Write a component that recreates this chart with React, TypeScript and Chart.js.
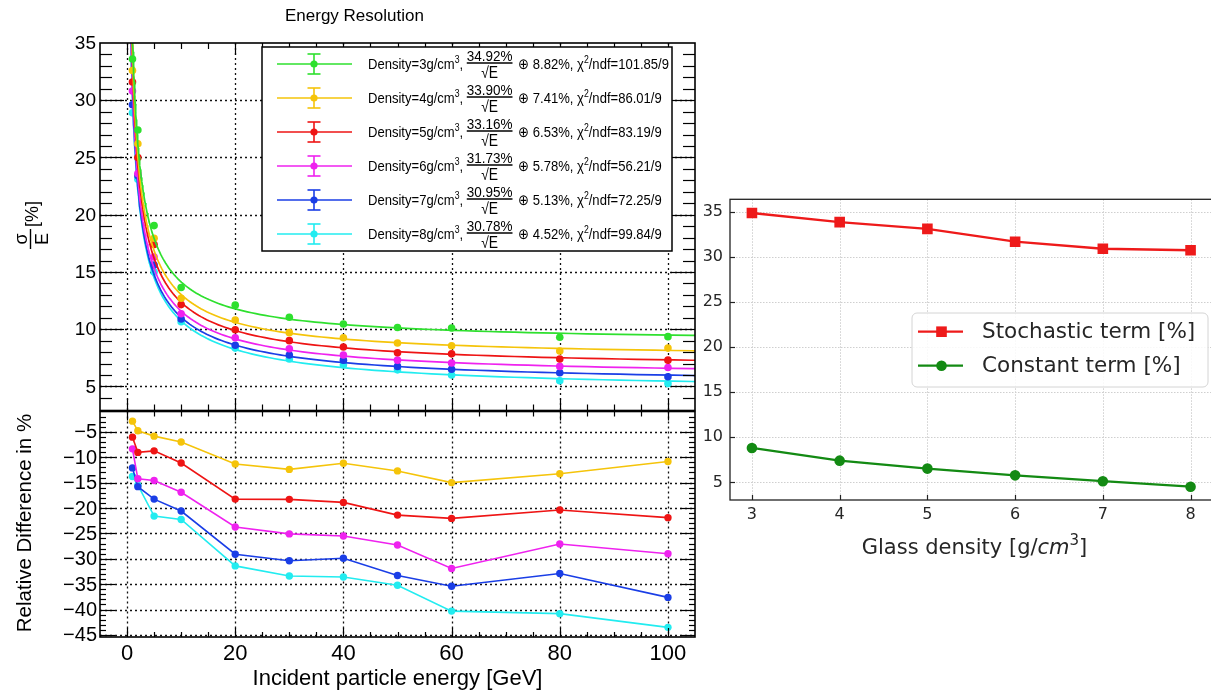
import React, { useEffect, useRef } from 'react';
import { Chart, registerables } from 'chart.js';

Chart.register(...registerables);

const ROOT_FONT = '"Liberation Sans", Arial, Helvetica, sans-serif';
const MPL_FONT = '"DejaVu Sans", "Liberation Sans", sans-serif';

// Beam energies (GeV)
const energies = [1, 2, 5, 10, 20, 30, 40, 50, 60, 80, 100];
// Glass densities (g/cm^3)
const densities = [3, 4, 5, 6, 7, 8];

// Measured energy resolution sigma/E (%) for each density
const resolutionD3 = [33.6, 27.4, 19.05, 13.65, 12.1, 11.05, 10.45, 10.15, 10.1, 9.3, 9.35];
const resolutionD4 = [32.6, 26.2, 17.95, 12.7, 10.8, 9.7, 9.25, 8.8, 8.55, 8.1, 8.35];
const resolutionD5 = [31.6, 25.0, 17.4, 12.15, 9.95, 9.0, 8.45, 7.95, 7.85, 7.4, 7.3];
const resolutionD6 = [30.8, 23.6, 16.3, 11.35, 9.25, 8.3, 7.75, 7.3, 7.05, 6.75, 6.65];
const resolutionD7 = [29.6, 23.4, 15.6, 10.9, 8.6, 7.75, 7.3, 6.75, 6.5, 6.2, 5.85];
const resolutionD8 = [28.9, 23.1, 15.0, 10.65, 8.35, 7.4, 6.9, 6.45, 6.0, 5.5, 5.25];

// Fit parameters: stochastic term a (%), constant term b (%), chi2 of the fit
const stochasticTerm = [34.92, 33.9, 33.16, 31.73, 30.95, 30.78];
const constantTerm = [8.82, 7.41, 6.53, 5.78, 5.13, 4.52];
const chi2 = ['101.85', '86.01', '83.19', '56.21', '72.25', '99.84'];

// Relative difference (%) with respect to density 3 g/cm^3
const relDiffD4 = [-2.9, -4.8, -5.85, -7.0, -11.35, -12.4, -11.2, -12.7, -15.0, -13.25, -10.85];
const relDiffD5 = [-6.05, -9.05, -8.75, -11.15, -18.25, -18.3, -18.9, -21.4, -22.05, -20.4, -21.9];
const relDiffD6 = [-8.35, -14.25, -14.6, -16.9, -23.75, -25.1, -25.5, -27.3, -31.9, -27.1, -29.0];
const relDiffD7 = [-12.1, -15.8, -18.25, -20.6, -29.1, -30.4, -29.9, -33.3, -35.4, -32.9, -37.6];
const relDiffD8 = [-13.8, -15.5, -21.6, -22.25, -31.4, -33.4, -33.6, -35.2, -40.3, -40.8, -43.5];

// Axis ticks
const energyTicks = [0, 20, 40, 60, 80, 100];
const resolutionTicks = [5, 10, 15, 20, 25, 30, 35];
const relDiffTicks = [-5, -10, -15, -20, -25, -30, -35, -40, -45];
const termTicks = [5, 10, 15, 20, 25, 30, 35];
const densityTicks = [3, 4, 5, 6, 7, 8];

const densityColors = ['#2ee02e', '#f5c40a', '#ee1414', '#ef22ef', '#1a3ee6', '#22ecf0'];
const STOCH_COLOR = '#ee1a1a';
const CONST_COLOR = '#138a13';

const resolutionSeries = [resolutionD3, resolutionD4, resolutionD5, resolutionD6, resolutionD7, resolutionD8];
const relDiffSeries = [relDiffD4, relDiffD5, relDiffD6, relDiffD7, relDiffD8];

// Fit function sigma/E = a/sqrt(E) (+) b, sampled finely for a smooth curve
const fitEnergies: number[] = [];
for (let e = 0.6; e < 106; e *= 1.035) fitEnergies.push(e);
fitEnergies.push(106);
const resolutionFit = (a: number, b: number, e: number) => Math.sqrt((a * a) / e + b * b);

type AxisSpec = { from: number; to: number; minor: number; major: number; majorLen: number; minorLen: number };

const isMultiple = (v: number, m: number) => Math.abs(v / m - Math.round(v / m)) < 1e-6;

function seg(ctx: CanvasRenderingContext2D, x1: number, y1: number, x2: number, y2: number) {
  ctx.beginPath();
  ctx.moveTo(x1, y1);
  ctx.lineTo(x2, y2);
  ctx.stroke();
}

function rootGrid(chart: any, xs: number[], ys: number[]) {
  const { ctx, chartArea: a, scales } = chart;
  ctx.save();
  ctx.beginPath();
  ctx.rect(a.left, a.top, a.right - a.left, a.bottom - a.top);
  ctx.clip();
  ctx.strokeStyle = '#111';
  ctx.lineWidth = 1.3;
  ctx.setLineDash([2, 3]);
  xs.forEach((v) => {
    const p = Math.round(scales.x.getPixelForValue(v)) + 0.5;
    seg(ctx, p, a.top, p, a.bottom);
  });
  ys.forEach((v) => {
    const p = Math.round(scales.y.getPixelForValue(v)) + 0.5;
    seg(ctx, a.left, p, a.right, p);
  });
  ctx.restore();
}

function rootFrame(chart: any, xs: AxisSpec, ys: AxisSpec) {
  const { ctx, chartArea: a, scales } = chart;
  ctx.save();
  ctx.strokeStyle = '#000';
  ctx.lineWidth = 1.2;
  ctx.setLineDash([]);
  const nx = Math.round((xs.to - xs.from) / xs.minor);
  for (let k = 0; k <= nx; k++) {
    const v = xs.from + k * xs.minor;
    const p = Math.round(scales.x.getPixelForValue(v)) + 0.5;
    if (p <= a.left + 1 || p >= a.right - 1) continue;
    const len = isMultiple(v, xs.major) ? xs.majorLen : xs.minorLen;
    seg(ctx, p, a.bottom, p, a.bottom - len);
    seg(ctx, p, a.top, p, a.top + len);
  }
  const ny = Math.round((ys.to - ys.from) / ys.minor);
  for (let k = 0; k <= ny; k++) {
    const v = ys.from + k * ys.minor;
    const p = Math.round(scales.y.getPixelForValue(v)) + 0.5;
    if (p <= a.top + 1 || p >= a.bottom - 1) continue;
    const len = isMultiple(v, ys.major) ? ys.majorLen : ys.minorLen;
    seg(ctx, a.left, p, a.left + len, p);
    seg(ctx, a.right, p, a.right - len, p);
  }
  ctx.lineWidth = 1.6;
  ctx.strokeRect(a.left, a.top, a.right - a.left, a.bottom - a.top);
  ctx.restore();
}

function drawFitLegend(ctx: CanvasRenderingContext2D) {
  const bx = 262;
  const by = 47;
  const bw = 410;
  const bh = 204;
  ctx.save();
  ctx.fillStyle = '#fff';
  ctx.fillRect(bx, by, bw, bh);
  ctx.strokeStyle = '#000';
  ctx.lineWidth = 1.5;
  ctx.strokeRect(bx, by, bw, bh);
  densities.forEach((d, i) => {
    const cy = 64 + 34 * i;
    const c = densityColors[i];
    ctx.strokeStyle = c;
    ctx.lineWidth = 1.6;
    seg(ctx, 277, cy, 352, cy);
    seg(ctx, 314, cy - 10, 314, cy + 10);
    seg(ctx, 307.5, cy - 10, 320.5, cy - 10);
    seg(ctx, 307.5, cy + 10, 320.5, cy + 10);
    ctx.fillStyle = c;
    ctx.beginPath();
    ctx.arc(314, cy, 3.6, 0, Math.PI * 2);
    ctx.fill();

    // entry text, set in a slightly condensed face
    ctx.save();
    ctx.translate(368, 0);
    ctx.scale(0.87, 1);
    ctx.fillStyle = '#000';
    ctx.textBaseline = 'alphabetic';
    ctx.textAlign = 'left';
    const base = cy + 5;
    let x = 0;
    const put = (s: string, size: number, dy = 0) => {
      ctx.font = `${size}px ${ROOT_FONT}`;
      ctx.fillText(s, x, base + dy);
      x += ctx.measureText(s).width;
    };
    put(`Density=${d}g/cm`, 15);
    put('3', 10, -6.5);
    put(', ', 15);
    ctx.font = `15.5px ${ROOT_FONT}`;
    const num = `${stochasticTerm[i].toFixed(2)}%`;
    const nw = ctx.measureText(num).width;
    ctx.fillText(num, x, cy - 3);
    ctx.strokeStyle = '#000';
    ctx.lineWidth = 1.5;
    seg(ctx, x, cy - 1, x + nw, cy - 1);
    ctx.font = `16px ${ROOT_FONT}`;
    ctx.textAlign = 'center';
    ctx.fillText('\u221AE', x + nw / 2, cy + 14);
    ctx.textAlign = 'left';
    x += nw + 2;
    put(` \u2295 ${constantTerm[i].toFixed(2)}%, \u03C7`, 15);
    put('2', 10, -6.5);
    put(`/ndf=${chi2[i]}/9`, 15);
    ctx.restore();
  });
  ctx.restore();
}

const minusLabel = (v: number) => (v < 0 ? '\u2212' + Math.abs(v) : String(v));

const topPlugin = {
  id: 'resolutionFrame',
  beforeDatasetsDraw(chart: any) {
    rootGrid(chart, energyTicks, resolutionTicks.filter((v) => v < 35));
  },
  afterDatasetsDraw(chart: any) {
    const { ctx, chartArea: a, scales } = chart;
    rootFrame(
      chart,
      { from: -5, to: 105, minor: 5, major: 20, majorLen: 12, minorLen: 6 },
      { from: 3, to: 35, minor: 1, major: 5, majorLen: 24, minorLen: 12 }
    );
    ctx.save();
    ctx.fillStyle = '#000';
    ctx.font = `19px ${ROOT_FONT}`;
    ctx.textAlign = 'right';
    ctx.textBaseline = 'middle';
    resolutionTicks.forEach((v) => ctx.fillText(String(v), a.left - 4, scales.y.getPixelForValue(v) + 1));

    // title
    ctx.font = `17px ${ROOT_FONT}`;
    ctx.textAlign = 'left';
    ctx.textBaseline = 'alphabetic';
    ctx.fillText('Energy Resolution', 285, 21);

    // y title: sigma over E, then [%], rotated
    ctx.save();
    ctx.rotate(-Math.PI / 2);
    ctx.font = `18px ${ROOT_FONT}`;
    ctx.textAlign = 'center';
    ctx.fillText('\u03C3', -239, 27);
    ctx.strokeStyle = '#000';
    ctx.lineWidth = 1.4;
    seg(ctx, -249, 30.5, -229, 30.5);
    ctx.fillText('E', -239, 47.5);
    ctx.fillText('[%]', -214, 38);
    ctx.restore();

    drawFitLegend(ctx);
    ctx.restore();
  },
};

const bottomPlugin = {
  id: 'relDiffFrame',
  beforeDatasetsDraw(chart: any) {
    rootGrid(chart, energyTicks, relDiffTicks);
  },
  afterDatasetsDraw(chart: any) {
    const { ctx, chartArea: a, scales } = chart;
    rootFrame(
      chart,
      { from: -5, to: 105, minor: 5, major: 20, majorLen: 9, minorLen: 5 },
      { from: -45, to: -1, minor: 1, major: 5, majorLen: 15, minorLen: 6 }
    );
    ctx.save();
    ctx.fillStyle = '#000';
    ctx.font = `20px ${ROOT_FONT}`;
    ctx.textAlign = 'right';
    ctx.textBaseline = 'middle';
    relDiffTicks.forEach((v) => ctx.fillText(minusLabel(v), a.left - 3, scales.y.getPixelForValue(v) + 1));

    ctx.font = `22px ${ROOT_FONT}`;
    ctx.textAlign = 'center';
    ctx.textBaseline = 'alphabetic';
    const tickBase = 660 - 400;
    energyTicks.forEach((v) => ctx.fillText(String(v), scales.x.getPixelForValue(v), tickBase));
    ctx.fillText('Incident particle energy [GeV]', 397.5, 685 - 400);

    ctx.save();
    ctx.rotate(-Math.PI / 2);
    ctx.font = `20.5px ${ROOT_FONT}`;
    ctx.textAlign = 'center';
    ctx.fillText('Relative Difference in %', -(523 - 400), 31);
    ctx.restore();
    ctx.restore();
  },
};

function drawTermLegend(ctx: CanvasRenderingContext2D) {
  const x = 912 - 700;
  const y = 313 - 190;
  const w = 296;
  const h = 74;
  const r = 5;
  ctx.save();
  ctx.beginPath();
  ctx.moveTo(x + r, y);
  ctx.arcTo(x + w, y, x + w, y + h, r);
  ctx.arcTo(x + w, y + h, x, y + h, r);
  ctx.arcTo(x, y + h, x, y, r);
  ctx.arcTo(x, y, x + w, y, r);
  ctx.closePath();
  ctx.fillStyle = 'rgba(255,255,255,0.85)';
  ctx.fill();
  ctx.strokeStyle = '#d4d4d4';
  ctx.lineWidth = 1;
  ctx.stroke();

  const rows = [
    { label: 'Stochastic term [%]', color: STOCH_COLOR, square: true, cy: 331.7 - 190 },
    { label: 'Constant term [%]', color: CONST_COLOR, square: false, cy: 365.7 - 190 },
  ];
  rows.forEach((row) => {
    ctx.strokeStyle = row.color;
    ctx.fillStyle = row.color;
    ctx.lineWidth = 2.2;
    seg(ctx, 918 - 700, row.cy, 963 - 700, row.cy);
    const mx = 941.5 - 700;
    if (row.square) {
      ctx.fillRect(mx - 5.3, row.cy - 5.3, 10.6, 10.6);
    } else {
      ctx.beginPath();
      ctx.arc(mx, row.cy, 5.3, 0, Math.PI * 2);
      ctx.fill();
    }
    ctx.fillStyle = '#262626';
    ctx.font = `21.5px ${MPL_FONT}`;
    ctx.textAlign = 'left';
    ctx.textBaseline = 'middle';
    ctx.fillText(row.label, 982 - 700, row.cy + 1);
  });
  ctx.restore();
}

const termPlugin = {
  id: 'termFrame',
  beforeDatasetsDraw(chart: any) {
    const { ctx, chartArea: a, scales } = chart;
    ctx.save();
    ctx.strokeStyle = '#cfcfcf';
    ctx.lineWidth = 1;
    ctx.setLineDash([1.5, 1.5]);
    densityTicks.forEach((v) => {
      const p = Math.round(scales.x.getPixelForValue(v)) + 0.5;
      seg(ctx, p, a.top, p, a.bottom);
    });
    termTicks.forEach((v) => {
      const p = Math.round(scales.y.getPixelForValue(v)) + 0.5;
      seg(ctx, a.left, p, a.right, p);
    });
    ctx.restore();
  },
  afterDatasetsDraw(chart: any) {
    const { ctx, chartArea: a, scales } = chart;
    ctx.save();
    ctx.strokeStyle = '#222';
    ctx.lineWidth = 1.2;
    densityTicks.forEach((v) => {
      const p = Math.round(scales.x.getPixelForValue(v)) + 0.5;
      seg(ctx, p, a.bottom, p, a.bottom - 5);
    });
    termTicks.forEach((v) => {
      const p = Math.round(scales.y.getPixelForValue(v)) + 0.5;
      seg(ctx, a.left, p, a.left + 5, p);
    });
    ctx.lineWidth = 1.3;
    ctx.strokeRect(a.left, a.top, a.right - a.left, a.bottom - a.top);

    ctx.fillStyle = '#262626';
    ctx.font = `16px ${MPL_FONT}`;
    ctx.textAlign = 'right';
    ctx.textBaseline = 'middle';
    termTicks.forEach((v) => ctx.fillText(String(v), a.left - 7, scales.y.getPixelForValue(v)));
    ctx.textAlign = 'center';
    densityTicks.forEach((v) => ctx.fillText(String(v), scales.x.getPixelForValue(v), 515 - 190));

    // x title with italic cm and superscript 3
    const base = 554 - 190;
    const parts = [
      { s: 'Glass density [g/', font: `21px ${MPL_FONT}`, dy: 0 },
      { s: 'cm', font: `italic 21px ${MPL_FONT}`, dy: 0 },
      { s: '3', font: `15px ${MPL_FONT}`, dy: -9 },
      { s: ']', font: `21px ${MPL_FONT}`, dy: 0 },
    ];
    let total = 0;
    parts.forEach((p) => {
      ctx.font = p.font;
      total += ctx.measureText(p.s).width;
    });
    let x = 974.5 - 700 - total / 2;
    ctx.textAlign = 'left';
    ctx.textBaseline = 'alphabetic';
    parts.forEach((p) => {
      ctx.font = p.font;
      ctx.fillText(p.s, x, base + p.dy);
      x += ctx.measureText(p.s).width;
    });
    ctx.restore();
  },
  afterDraw(chart: any) {
    drawTermLegend(chart.ctx);
  },
};

function baseOptions(xMin: number, xMax: number, yMin: number, yMax: number, padding: any) {
  return {
    responsive: false,
    animation: false as const,
    devicePixelRatio: 1,
    events: [] as any[],
    layout: { padding },
    plugins: { legend: { display: false }, tooltip: { enabled: false }, title: { display: false } },
    scales: {
      x: { type: 'linear' as const, min: xMin, max: xMax, display: false },
      y: { type: 'linear' as const, min: yMin, max: yMax, display: false },
    },
  };
}

export default function App() {
  const topRef = useRef<HTMLCanvasElement>(null);
  const bottomRef = useRef<HTMLCanvasElement>(null);
  const rightRef = useRef<HTMLCanvasElement>(null);

  useEffect(() => {
    const topDatasets: any[] = [];
    densities.forEach((_, i) => {
      const c = densityColors[i];
      topDatasets.push({
        data: fitEnergies.map((e) => ({ x: e, y: resolutionFit(stochasticTerm[i], constantTerm[i], e) })),
        showLine: true,
        borderColor: c,
        borderWidth: 1.7,
        pointRadius: 0,
        tension: 0,
      });
      topDatasets.push({
        data: energies.map((e, k) => ({ x: e, y: resolutionSeries[i][k] })),
        showLine: false,
        pointRadius: 3.8,
        pointBorderWidth: 0,
        backgroundColor: c,
        borderColor: c,
      });
    });

    const bottomDatasets = relDiffSeries.map((series, j) => {
      const c = densityColors[j + 1];
      return {
        data: energies.map((e, k) => ({ x: e, y: series[k] })),
        showLine: true,
        borderColor: c,
        backgroundColor: c,
        borderWidth: 1.6,
        pointRadius: 3.7,
        pointBorderWidth: 0,
        tension: 0,
      };
    });

    const rightDatasets = [
      {
        data: densities.map((d, k) => ({ x: d, y: stochasticTerm[k] })),
        showLine: true,
        borderColor: STOCH_COLOR,
        backgroundColor: STOCH_COLOR,
        borderWidth: 2.3,
        pointStyle: 'rect',
        pointRadius: 7.5,
        pointBorderWidth: 0,
      },
      {
        data: densities.map((d, k) => ({ x: d, y: constantTerm[k] })),
        showLine: true,
        borderColor: CONST_COLOR,
        backgroundColor: CONST_COLOR,
        borderWidth: 2.3,
        pointStyle: 'circle',
        pointRadius: 5.3,
        pointBorderWidth: 0,
      },
    ];

    const charts = [
      new Chart(topRef.current as HTMLCanvasElement, {
        type: 'scatter',
        data: { datasets: topDatasets },
        options: baseOptions(-5, 105, 2.9, 35, { left: 100, top: 43, right: 5, bottom: 9.5 }) as any,
        plugins: [topPlugin],
      }),
      new Chart(bottomRef.current as HTMLCanvasElement, {
        type: 'scatter',
        data: { datasets: bottomDatasets },
        options: baseOptions(-5, 105, -45.4, -1, { left: 100, top: 11.5, right: 5, bottom: 55 }) as any,
        plugins: [bottomPlugin],
      }),
      new Chart(rightRef.current as HTMLCanvasElement, {
        type: 'scatter',
        data: { datasets: rightDatasets as any },
        options: baseOptions(2.75, 8.25, 3.04, 36.44, { left: 30, top: 9.3, right: 2.5, bottom: 80 }) as any,
        plugins: [termPlugin],
      }),
    ];
    return () => charts.forEach((c) => c.destroy());
  }, []);

  return (
    <div
      style={{
        position: 'absolute',
        left: 0,
        top: 0,
        width: 1211,
        height: 692,
        overflow: 'hidden',
        background: '#fff',
      }}
    >
      <canvas ref={topRef} width={700} height={420} style={{ position: 'absolute', left: 0, top: 0 }} />
      <canvas ref={bottomRef} width={700} height={292} style={{ position: 'absolute', left: 0, top: 400 }} />
      <canvas ref={rightRef} width={520} height={390} style={{ position: 'absolute', left: 700, top: 190 }} />
    </div>
  );
}
